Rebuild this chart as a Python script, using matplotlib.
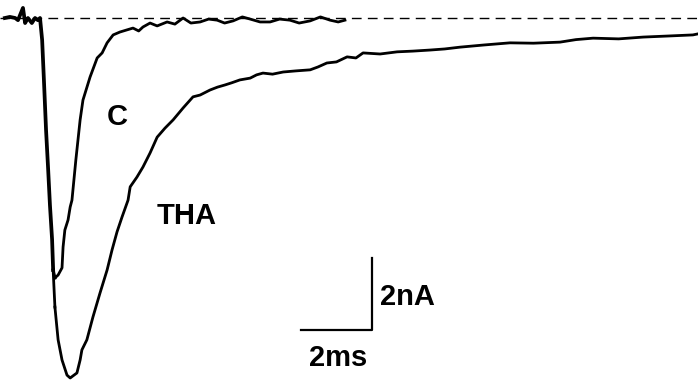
import matplotlib
matplotlib.use('Agg')
import matplotlib.pyplot as plt

# shared baseline + falling edge (time in ms, current in nA)
common_t = [-0.99, -0.85, -0.70, -0.62, -0.48, -0.42, -0.34, -0.23, -0.14, -0.06,
            0.00, 0.06, 0.11, 0.17, 0.23, 0.28, 0.34, 0.37]
common_i = [0.00, 0.03, 0.00, -0.06, 0.28, -0.14, 0.00, -0.14, 0.00, -0.06,
            0.00, -0.61, -1.72, -3.11, -4.22, -5.20, -6.15, -7.00]

# control trace
c_t = [0.42, 0.51, 0.62, 0.65, 0.70, 0.79, 0.85, 0.90, 1.01, 1.13, 1.21, 1.41, 1.61,
       1.75, 1.89, 2.06, 2.25, 2.45, 2.62, 2.78, 2.90, 3.10, 3.30, 3.58, 3.80, 4.03,
       4.25, 4.51, 4.75, 4.99, 5.20, 5.44, 5.70, 5.92, 6.20, 6.48, 6.75, 7.04, 7.30,
       7.61, 7.90, 8.17, 8.40, 8.59]
c_i = [-7.22, -7.14, -6.94, -6.36, -5.89, -5.61, -5.25, -5.06, -3.94, -2.83, -2.28,
       -1.64, -1.11, -0.97, -0.69, -0.47, -0.39, -0.33, -0.28, -0.36, -0.25, -0.14,
       -0.22, -0.11, -0.17, 0.00, -0.14, -0.11, -0.03, -0.06, -0.14, -0.08, 0.03,
       -0.03, -0.11, -0.11, -0.03, -0.06, -0.14, -0.08, 0.03, -0.06, -0.11, -0.06]

# THA trace
tha_t = [0.42, 0.51, 0.62, 0.76, 0.85, 1.04, 1.13, 1.18, 1.32, 1.49, 1.69, 1.89, 2.03,
         2.17, 2.31, 2.48, 2.54, 2.73, 2.90, 3.10, 3.30, 3.52, 3.75, 4.03, 4.31, 4.51,
         4.79, 5.00, 5.21, 5.40, 5.63, 5.92, 6.10, 6.28, 6.55, 6.85, 7.20, 7.61, 7.83,
         8.08, 8.35, 8.65, 8.90, 9.10, 9.58, 10.06, 10.50, 10.99, 11.40, 11.83, 12.50,
         13.24, 13.90, 14.65, 15.10, 15.58, 16.30, 16.99, 17.70, 18.39, 18.54]
tha_i = [-8.03, -8.94, -9.50, -9.92, -10.00, -9.86, -9.50, -9.22, -8.94, -8.31, -7.64,
         -7.00, -6.44, -5.94, -5.53, -5.06, -4.69, -4.42, -4.14, -3.75, -3.31, -3.06,
         -2.83, -2.50, -2.19, -2.14, -2.00, -1.92, -1.86, -1.80, -1.72, -1.67, -1.58,
         -1.53, -1.56, -1.50, -1.47, -1.44, -1.36, -1.25, -1.22, -1.08, -1.11, -0.97,
         -1.00, -0.94, -0.92, -0.89, -0.86, -0.81, -0.75, -0.69, -0.70, -0.67, -0.60,
         -0.56, -0.58, -0.53, -0.50, -0.47, -0.44]

bar_t, bar_i = 2.0, 2.0        # scale bar: 2 ms, 2 nA
bar_corner = (9.35, -8.67)

fig = plt.figure(figsize=(6.98, 3.80), dpi=100)
ax = fig.add_axes([0, 0, 1, 1])
ax.set_xlim(-1.127, 18.535)
ax.set_ylim(-10.056, 0.5)
ax.axis('off')

ax.axhline(0, color='black', lw=1.0, dashes=(7, 4.5))
ax.plot(c_t, c_i, color='black', lw=2.0, solid_joinstyle='round')
ax.plot(tha_t, tha_i, color='black', lw=2.0, solid_joinstyle='round')
ax.plot(common_t, common_i, color='black', lw=2.7, solid_joinstyle='round')
ax.plot(common_t[-1:] + c_t[:1], common_i[-1:] + c_i[:1], color='black', lw=2.2)
ax.plot(common_t[-1:] + tha_t[:1], common_i[-1:] + tha_i[:1], color='black', lw=2.0)

cx, cy = bar_corner
ax.plot([cx - bar_t, cx, cx], [cy, cy, cy + bar_i], color='black', lw=1.6)

fam = ['Liberation Sans', 'DejaVu Sans']
kw = dict(transform=ax.transAxes, fontsize=21, fontweight='bold', family=fam,
          va='center')
ax.text(0.168, 0.692, 'C', ha='center', **kw)
ax.text(0.268, 0.432, 'THA', ha='center', **kw)
ax.text(0.545, 0.218, '2nA', ha='left', **kw)
ax.text(0.484, 0.058, '2ms', ha='center', **kw)

fig.savefig('out.png', dpi=100)
